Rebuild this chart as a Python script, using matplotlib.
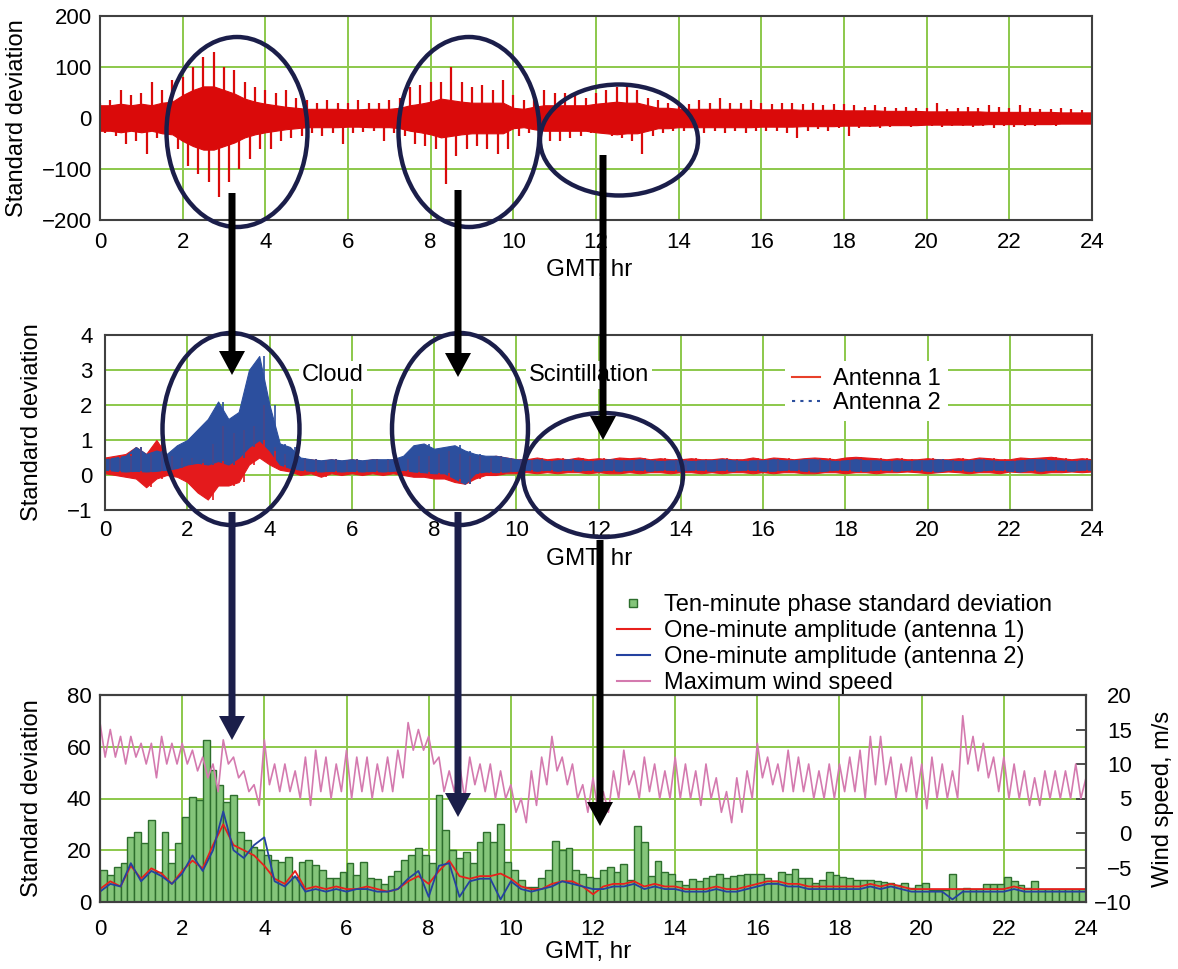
import numpy as np
import matplotlib
matplotlib.use("Agg")
from matplotlib import pyplot as plt
from matplotlib.patches import Ellipse, FancyArrow
from matplotlib.lines import Line2D

plt.rcParams['font.family'] = ['Liberation Sans', 'DejaVu Sans']
plt.rcParams['font.size'] = 16

# ---- data ----
hours = np.arange(0, 24.01, 0.25)   # 97 samples, 15-minute spacing

# top panel: phase signal, largest up / down spike within each 15 min
top_hi = [30, 35, 55, 45, 50, 70, 55, 75, 80, 100, 120, 130, 100, 95, 70, 60, 55, 50, 55, 40,
          35, 30, 35, 30, 30, 35, 30, 30, 35, 40, 60, 65, 70, 70, 100, 70, 60, 65, 55, 75,
          45, 35, 45, 55, 50, 50, 45, 40, 50, 55, 60, 65, 55, 40, 35, 30, 30, 28, 35, 30,
          40, 30, 30, 35, 30, 28, 30, 30, 28, 30, 25, 28, 28, 25, 22, 25, 22, 20, 22, 20,
          20, 30, 18, 20, 22, 20, 25, 22, 20, 25, 20, 18, 18, 20, 18, 15, 15]
top_lo = [-30, -35, -50, -45, -70, -40, -45, -60, -95, -110, -125, -155, -125, -100, -80, -60, -60, -45, -40, -35,
          -30, -35, -30, -50, -30, -28, -25, -45, -30, -35, -50, -55, -60, -130, -75, -60, -55, -60, -70, -60,
          -35, -30, -40, -45, -45, -40, -35, -30, -30, -35, -40, -45, -70, -35, -30, -25, -25, -20, -30, -25,
          -30, -25, -30, -25, -25, -25, -30, -40, -25, -22, -25, -20, -35, -20, -18, -20, -18, -15, -18, -15,
          -15, -18, -15, -15, -18, -15, -20, -15, -18, -15, -15, -12, -15, -12, -12, -10, -10]
# half-height of the dense core of the trace
top_core = [25, 25, 28, 25, 28, 25, 30, 32, 45, 55, 62, 62, 55, 48, 38, 32, 28, 25,
            22, 20, 18, 18, 18, 18, 17, 17, 18, 18, 18, 20,
            25, 28, 32, 38, 35, 32, 30, 30, 30, 30, 20, 18, 22, 25,
            25, 25, 25, 25, 28, 30, 32, 30, 30, 25,
            20, 20, 18, 18, 18, 18, 18, 18, 18, 18, 17, 17, 17, 17, 16, 16, 16, 16, 15, 15,
            15, 15, 14, 14, 14, 14, 13, 13, 13, 13, 13, 13, 12, 12, 12, 12, 12, 12, 12, 11,
            11, 11, 11]

# middle panel: antenna 1 / antenna 2, high / low within each 15 min
ant1_hi = [0.5, 0.55, 0.6, 0.8, 0.6, 1.0, 0.55, 0.5, 0.5, 0.45, 0.9, 1.4, 1.2, 1.3, 1.4, 2.0, 0.8, 0.6, 0.5, 0.45,
           0.45, 0.4, 0.45, 0.4, 0.45, 0.4, 0.45, 0.42, 0.45, 0.45, 0.55, 0.55, 0.6, 0.7, 0.6, 0.55, 0.55, 0.5, 0.55, 0.5,
           0.45, 0.45, 0.5, 0.45, 0.48, 0.45, 0.5, 0.45, 0.48, 0.45, 0.5, 0.48, 0.5, 0.45, 0.48, 0.45, 0.45, 0.48, 0.45, 0.45,
           0.48, 0.45, 0.45, 0.5, 0.45, 0.5, 0.48, 0.45, 0.48, 0.5, 0.48, 0.45, 0.5, 0.52, 0.5, 0.48, 0.45, 0.48, 0.45, 0.45,
           0.48, 0.45, 0.45, 0.48, 0.45, 0.5, 0.48, 0.45, 0.45, 0.5, 0.48, 0.5, 0.52, 0.48, 0.45, 0.48, 0.45]
ant1_lo = [0.05, 0.0, -0.05, -0.1, -0.35, -0.1, 0.0, -0.05, -0.2, -0.5, -0.7, -0.3, -0.3, -0.2, 0.3, 0.5, 0.3, 0.15, 0.1, 0.0,
           0.05, -0.05, 0.05, 0.0, 0.05, 0.0, 0.05, 0.0, 0.05, 0.0, -0.05, -0.05, -0.1, -0.1, -0.2, -0.25, -0.1, 0.0, 0.0, 0.05,
           0.05, 0.08, 0.05, 0.08, 0.05, 0.08, 0.08, 0.05, 0.08, 0.05, 0.05, 0.08, 0.05, 0.08, 0.08, 0.05, 0.08, 0.08, 0.05, 0.08,
           0.05, 0.08, 0.08, 0.05, 0.08, 0.05, 0.08, 0.08, 0.05, 0.05, 0.08, 0.08, 0.05, 0.08, 0.08, 0.05, 0.08, 0.08, 0.1, 0.08,
           0.05, 0.08, 0.1, 0.08, 0.05, 0.08, 0.08, 0.05, 0.1, 0.08, 0.08, 0.05, 0.08, 0.08, 0.1, 0.08, 0.1]
ant2_hi = [0.45, 0.5, 0.55, 0.8, 0.6, 0.7, 0.6, 0.85, 1.0, 1.3, 1.6, 2.1, 1.6, 1.8, 3.0, 3.4, 2.0, 0.9, 0.8, 0.5,
           0.45, 0.42, 0.45, 0.42, 0.45, 0.42, 0.45, 0.45, 0.45, 0.55, 0.85, 0.9, 0.75, 0.8, 0.85, 0.7, 0.6, 0.55, 0.55, 0.5,
           0.45, 0.42, 0.45, 0.4, 0.42, 0.45, 0.42, 0.4, 0.42, 0.45, 0.42, 0.42, 0.45, 0.42, 0.4, 0.42, 0.42, 0.4, 0.42, 0.42,
           0.45, 0.42, 0.4, 0.42, 0.42, 0.45, 0.42, 0.42, 0.45, 0.45, 0.42, 0.4, 0.42, 0.45, 0.42, 0.42, 0.4, 0.42, 0.4, 0.42,
           0.42, 0.45, 0.42, 0.4, 0.42, 0.45, 0.42, 0.4, 0.4, 0.42, 0.45, 0.45, 0.42, 0.42, 0.4, 0.42, 0.42]
ant2_lo = [0.15, 0.12, 0.1, 0.12, 0.1, 0.12, 0.15, 0.2, 0.3, 0.35, 0.3, 0.4, 0.3, 0.5, 0.8, 1.0, 0.7, 0.3, 0.2, 0.15,
           0.12, 0.1, 0.12, 0.1, 0.12, 0.1, 0.12, 0.1, 0.12, 0.15, 0.1, 0.08, 0.05, 0.05, -0.1, -0.25, 0.05, 0.1, 0.08, 0.1,
           0.12, 0.15, 0.12, 0.15, 0.12, 0.15, 0.12, 0.15, 0.12, 0.15, 0.12, 0.15, 0.15, 0.12, 0.15, 0.15, 0.12, 0.15, 0.15, 0.12,
           0.15, 0.12, 0.15, 0.15, 0.12, 0.12, 0.15, 0.15, 0.12, 0.1, 0.12, 0.15, 0.15, 0.12, 0.12, 0.15, 0.15, 0.12, 0.15, 0.15,
           0.12, 0.1, 0.15, 0.15, 0.12, 0.12, 0.15, 0.15, 0.12, 0.1, 0.15, 0.12, 0.15, 0.15, 0.12, 0.15, 0.15]

# bottom panel: ten-minute phase standard deviation (144 bars)
ten_min_std = [12.4, 10.4, 13.7, 15, 25.2, 27.2, 22.7, 31.7, 11.7, 27.2,
               15, 22.7, 33, 40.7, 39.4, 62.6, 51, 45.2, 38.8, 41.4,
               27.2, 24, 21.4, 20.1, 18.2, 16.2, 15.6, 17.5, 9.8, 15.6,
               16.2, 14.3, 12.4, 9.1, 9.1, 11.7, 15, 10.4, 15.6, 9.1,
               9, 7, 10, 12, 16.2, 18.2, 20.8, 18.2, 15, 41.4,
               27.8, 20.1, 17, 19.5, 15, 23.3, 27.2, 23.3, 30.1, 15.6,
               12.4, 8.5, 5.9, 5.9, 9.3, 12.4, 23.6, 20.1, 21, 12.4,
               11, 9.8, 9.1, 12.4, 13.7, 11.7, 14.7, 8.4, 29.5, 23,
               10.2, 16, 11.7, 11, 8.2, 6.4, 8.9, 8.2, 9.1, 10,
               10.8, 9.1, 10, 10.4, 11, 11, 10.8, 9.1, 8.2, 11.7,
               10.8, 12.6, 9.1, 9.1, 7.2, 8.6, 11.7, 10.4, 9.8, 9.1,
               8.5, 8.6, 8.5, 8.2, 7.8, 7.4, 6.4, 7.4, 5.5, 6.6,
               7.4, 4.6, 4.8, 4.6, 10.7, 4.9, 5.5, 5, 5, 7,
               7, 7, 9.5, 8, 6.5, 5.5, 8, 4.9, 4.9, 4.9,
               4.9, 4.9, 5, 4.9]

# one-minute amplitude standard deviation
amp_ant1 = [5, 8, 6, 14, 9, 13, 11, 7, 12, 16, 13, 22, 30, 22, 20, 18, 14, 9, 7, 12,
            5, 6, 5, 6, 5, 5, 6, 5, 4, 5, 8, 10, 7, 12, 16, 10, 9, 10, 10, 11,
            9, 6, 5, 5, 7, 8, 8, 6, 3, 6, 7, 7, 8, 6, 7, 6, 6, 5, 5, 5,
            6, 5, 5, 6, 7, 8, 8, 7, 7, 6, 6, 6, 6, 6, 6, 7, 6, 7, 6, 5,
            5, 5, 5, 5, 5, 5, 5, 5, 5, 6, 5, 5, 5, 5, 5, 5, 5]
amp_ant2 = [4, 7, 6, 15, 8, 12, 10, 7, 11, 18, 12, 20, 35, 20, 17, 22, 25, 8, 6, 10,
            4, 5, 4, 5, 4, 5, 5, 4, 4, 5, 9, 12, 2, 14, 15, 2, 8, 9, 9, 1,
            8, 5, 4, 5, 6, 8, 7, 6, 5, 5, 6, 6, 7, 5, 6, 5, 5, 4, 4, 4,
            5, 4, 4, 5, 6, 7, 7, 6, 6, 5, 5, 5, 5, 5, 5, 6, 5, 6, 5, 4,
            4, 4, 4, 1, 4, 4, 4, 4, 4, 5, 4, 4, 4, 4, 4, 4, 4]

# maximum wind speed, m/s (high / low within each 15 min)
wind_hi = [16, 15, 14, 14, 13, 13, 14, 13, 13, 12, 11, 10, 13.5, 11, 9, 7, 13.5, 10, 10, 9,
           11, 12, 11, 10, 12, 11, 11, 10, 11, 12, 16, 15, 14, 11, 9, 10, 11, 10, 10, 9,
           7, 5, 9, 11, 14, 11, 10, 7, 8, 6, 9, 12, 9, 11, 10, 9, 11, 10, 9, 10,
           8, 6, 8, 9, 13, 11, 10, 12, 11, 10, 9, 10, 10, 11, 12, 14, 14, 11, 10, 11,
           10, 11, 10, 9, 17, 14, 13, 11, 11, 10, 9, 8, 9, 9, 9, 10, 8]
wind_lo = [11, 11, 10, 11, 10, 8, 10, 10, 10, 9, 8, 6, 10, 8, 6, 4, 7, 6, 6, 5,
           4, 6, 5, 6, 5, 6, 5, 6, 6, 8, 12, 12, 10, 6, 6, 5, 7, 6, 5, 5,
           3, 1.5, 4, 7, 9, 7, 5, 3, 3, 3, 5, 7, 5, 6, 5, 5, 5, 5, 4, 5,
           3, 1.5, 3, 5, 8, 7, 6, 6, 6, 5, 5, 5, 6, 6, 5, 7, 7, 5, 6, 5,
           3.5, 5, 5, 5, 10, 9, 8, 6, 5, 5, 4, 4, 5, 5, 5, 5, 5]

# ---- styles ----
GRID = '#8cc84b'
SPINE = '#404040'
NAVY = '#1b1e4a'
RED = '#da0a0a'
LABEL_FS = 17
NOTE_FS = 17

W, H = 1178, 969
fig = plt.figure(figsize=(W / 100, H / 100), dpi=100)


def style_axes(ax, ylim, yticks, xpad, ypad):
    ax.set_xlim(0, 24)
    ax.set_ylim(*ylim)
    ax.set_xticks(range(0, 25, 2))
    ax.set_yticks(yticks)
    ax.grid(True, color=GRID, lw=1.4)
    ax.set_axisbelow(True)
    ax.tick_params(length=0, labelsize=16)
    ax.tick_params(axis='x', pad=xpad)
    ax.tick_params(axis='y', pad=ypad)
    for s in ax.spines.values():
        s.set_color(SPINE)
        s.set_linewidth(1.5)


# top panel: dense core plus alternating up / down spikes
ax1 = fig.add_axes([100 / W, 1 - 220 / H, 992 / W, 204 / H])
style_axes(ax1, (-200, 200), range(-200, 201, 100), 9, 6)
core = np.array(top_core)
ax1.fill_between(hours, -core, core, color=RED, lw=0.8, ec=RED)
ax1.vlines(hours, 0, top_hi, color=RED, lw=1.6)
ax1.vlines(hours + 0.125, top_lo, 0, color=RED, lw=1.6)
ax1.set_xlabel('GMT, hr', fontsize=17.5)
ax1.xaxis.set_label_coords(0.493, -0.19)
ax1.set_ylabel('Standard deviation', fontsize=LABEL_FS)
ax1.yaxis.set_label_coords(-0.073, 0.5)

# middle panel
ax2 = fig.add_axes([105 / W, 1 - 510 / H, 987 / W, 175 / H])
style_axes(ax2, (-1, 4), range(-1, 5), 7, 9)
ax2.fill_between(hours, ant1_lo, ant1_hi, color='#e41a1c', lw=0.8, ec='#e41a1c')
ax2.vlines(hours + 0.125, ant1_lo, ant1_hi, color='#e41a1c', lw=1.2)
ax2.fill_between(hours, ant2_lo, ant2_hi, color='#2c4f9e', lw=0.8, ec='#2c4f9e')
ax2.vlines(hours + 0.125, ant2_lo, ant2_hi, color='#2c4f9e', lw=1.2)
ax2.set_xlabel('GMT, hr', fontsize=17.5)
ax2.xaxis.set_label_coords(0.49, -0.215)
ax2.set_ylabel('Standard deviation', fontsize=LABEL_FS)
ax2.yaxis.set_label_coords(-0.063, 0.5)
box = dict(facecolor='white', edgecolor='none', pad=2)
ax2.text(5.54, 2.85, 'Cloud', ha='center', va='center', bbox=box, fontsize=NOTE_FS)
ax2.text(11.77, 2.85, 'Scintillation', ha='center', va='center', bbox=box, fontsize=NOTE_FS)
h_ant = [Line2D([], [], color='#e8402a', lw=1.5),
         Line2D([], [], color='#2c4f9e', lw=1.5, ls=(0, (1.5, 2.5)))]
ax2.legend(h_ant, ['Antenna 1', 'Antenna 2'], loc='upper left',
           bbox_to_anchor=(773 / W, 1 - 349 / H), bbox_transform=fig.transFigure,
           frameon=True, facecolor='white', edgecolor='none', framealpha=1,
           fancybox=False, handlelength=1.2, handletextpad=0.55, labelspacing=0.1,
           borderpad=0.3, fontsize=NOTE_FS)

# bottom panel
ax3 = fig.add_axes([100 / W, 1 - 902 / H, 986 / W, 207 / H])
style_axes(ax3, (0, 80), range(0, 81, 20), 12, 6)
bar_left = np.arange(len(ten_min_std)) / 6
ax3.bar(bar_left, ten_min_std, width=1 / 6, align='edge', color='#84c57a',
        edgecolor='#2d6e2d', lw=1.0)
ax3.plot(hours, amp_ant1, color='#e8201c', lw=1.3)
ax3.plot(hours, amp_ant2, color='#2442a0', lw=1.3)
ax3.set_xlabel('GMT, hr', fontsize=17.5)
ax3.xaxis.set_label_coords(0.495, -0.19)
ax3.set_ylabel('Standard deviation', fontsize=LABEL_FS)
ax3.yaxis.set_label_coords(-0.058, 0.5)

ax3b = ax3.twinx()
ax3b.set_ylim(-10, 20)
ax3b.set_yticks(range(-10, 21, 5))
ax3b.tick_params(axis='y', direction='in', length=7, width=1.3, color=SPINE,
                 pad=33, labelsize=16)
for lbl in ax3b.get_yticklabels():
    lbl.set_horizontalalignment('right')
for s in ax3b.spines.values():
    s.set_color(SPINE)
    s.set_linewidth(1.5)
# alternate the high and low readings inside each 15-minute slot
wx = np.column_stack([hours, hours + 0.125]).ravel()
wy = np.column_stack([wind_hi, wind_lo]).ravel()
ax3b.plot(wx, wy, color='#d47aaf', lw=1.2)
ax3b.set_ylabel('Wind speed, m/s', fontsize=LABEL_FS)
ax3b.yaxis.set_label_coords(1.067, 0.5)

h_bot = [Line2D([], [], marker='s', ls='none', ms=6, mfc='#84c57a', mec='#2d6e2d'),
         Line2D([], [], color='#e8201c', lw=1.5),
         Line2D([], [], color='#2442a0', lw=1.5),
         Line2D([], [], color='#d47aaf', lw=1.5)]
fig.legend(h_bot, ['Ten-minute phase standard deviation',
                   'One-minute amplitude (antenna 1)',
                   'One-minute amplitude (antenna 2)',
                   'Maximum wind speed'],
           loc='upper left', bbox_to_anchor=(605 / W, 1 - 582 / H), frameon=False,
           handlelength=1.4, handletextpad=0.6, labelspacing=0.17, borderpad=0,
           fontsize=NOTE_FS)

# overlay in pixel coordinates for the ellipses and arrows
ov = fig.add_axes([0, 0, 1, 1], zorder=10)
ov.set_xlim(0, W)
ov.set_ylim(H, 0)
ov.axis('off')
ov.patch.set_alpha(0)

ellipses = [(237, 132, 141, 190), (469, 132, 141, 190), (619, 140, 158, 111),
            (231, 429, 137, 192), (460, 429, 136, 192), (603, 475, 160, 124)]
for cx, cy, ew, eh in ellipses:
    ov.add_patch(Ellipse((cx, cy), ew, eh, fill=False, ec=NAVY, lw=3.2))

arrows = [(232, 193, 375, 'black'), (458, 190, 377, 'black'), (603, 155, 440, 'black'),
          (232, 512, 740, NAVY), (458, 512, 817, NAVY), (600, 540, 826, 'black')]
for ax_x, y0, y1, col in arrows:
    ov.add_patch(FancyArrow(ax_x, y0, 0, y1 - y0, width=7, head_width=26,
                            head_length=24, length_includes_head=True,
                            color=col, lw=0))

fig.savefig('out.png', dpi=100)
